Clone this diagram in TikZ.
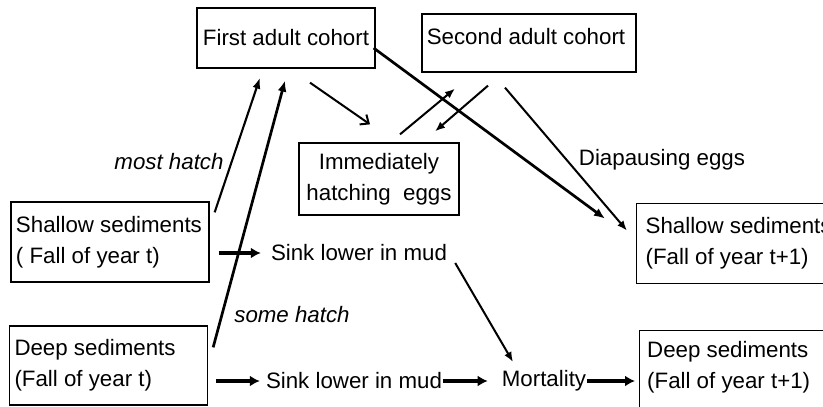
\documentclass[tikz,border=0pt]{standalone}
\usepackage{fontspec}
\setmainfont{Liberation Sans}
\usetikzlibrary{arrows.meta}
\begin{document}
\begin{tikzpicture}[x=1pt,y=-1pt,
  font=\fontsize{22.3}{31}\selectfont,
  box/.style={draw, line width=1.3pt, rectangle, inner sep=0pt, align=left},
  lbox/.style={draw, line width=1.3pt, rectangle, inner xsep=5pt, inner ysep=0pt, align=flush left},
  txt/.style={inner sep=0pt},
  ital/.style={inner sep=0pt, font=\fontsize{22.3}{31}\selectfont\itshape},
  arr/.style={-{Latex[length=11pt,width=8pt]}, line width=2.1pt},
  thk/.style={-{Latex[length=11pt,width=9pt]}, line width=2.7pt},
  hz/.style={-{Latex[length=10pt,width=11pt]}, line width=3.2pt},
  thin/.style={-{Latex[length=10pt,width=8pt]}, line width=2pt},
  barb/.style={-{Straight Barb[length=7pt,width=12pt]}, line width=2pt}]
\useasboundingbox (0,0) rectangle (823,407);
\clip (0,0) rectangle (823,407);
\fill[white] (0,0) rectangle (823,407);

% boxes
\node[box, minimum width=178, minimum height=60] (first) at (286,38) {First adult cohort};
\node[box, minimum width=214, minimum height=58] (second) at (529,43) {};
\node[txt] (secondt) at (526,37) {Second adult cohort};
\node[box, minimum width=160, minimum height=72, align=center] (imm) at (379,179) {Immediately\\hatching\ \ eggs};
\node[lbox, text width=188, minimum height=80] (sh1) at (110,242) {Shallow sediments\\( Fall of year t)};
\node[lbox, text width=188, minimum height=79] (dp1) at (108.5,365.5) {Deep sediments\\(Fall of year t)};
\node[lbox, inner xsep=9pt, anchor=north west, text width=210, minimum height=80] (sh2) at (636,203) {Shallow sediments\\(Fall of year t+1)};
\node[box, anchor=north west, minimum width=210, minimum height=102] (dp2) at (639,330) {};
\node[txt, anchor=west, align=left] (dp2t) at (647,367) {Deep sediments\\(Fall of year t+1)};

% free texts
\node[txt] (sink1) at (359,253) {Sink lower in mud};
\node[txt] (sink2) at (354,381) {Sink lower in mud};
\node[txt] (mort) at (544,381) {Mortality};
\node[ital] (most) at (169,162) {most hatch};
\node[ital] (some) at (292,315) {some hatch};
\node[txt] (diap) at (662,160) {Diapausing eggs};

% connectors
\draw[arr] ([shift={(5,11)}]sh1.north east) -- ([shift={(-26,9)}]first.south);
\draw[thk] ([shift={(5,22)}]dp1.north east) -- ([shift={(-1,12)}]first.south);
\draw[barb] ([shift={(24,14)}]first.south) -- ([shift={(-9,-18)}]imm.north);
\draw[thin] ([shift={(21,-8)}]imm.north) -- ([shift={(-74,16)}]second.south);
\draw[thin] ([shift={(-41,13)}]second.south) -- ([shift={(56,-11)}]imm.north);
\draw[thin] ([shift={(-24,15)}]second.south) -- ([shift={(-9,-13)}]sh2.west);
\draw[thk] ([shift={(-2,10)}]first.east) -- ([shift={(-31,-25)}]sh2.west);
\draw[hz] ([shift={(9,11)}]sh1.east) -- ([shift={(-10,0)}]sink1.west);
\draw[hz] ([xshift=8pt]sink2.west -| dp1.east) -- ([xshift=-6pt]sink2.west);
\draw[hz] ([xshift=1pt]sink2.east) -- ([xshift=-14pt]mort.west);
\draw[hz] ([xshift=1pt]mort.east) -- ([xshift=-4pt]mort.east -| dp2.west);
\draw[thin] ([shift={(8,10)}]sink1.east) -- ([shift={(-31,-19)}]mort.center);
\end{tikzpicture}
\end{document}
